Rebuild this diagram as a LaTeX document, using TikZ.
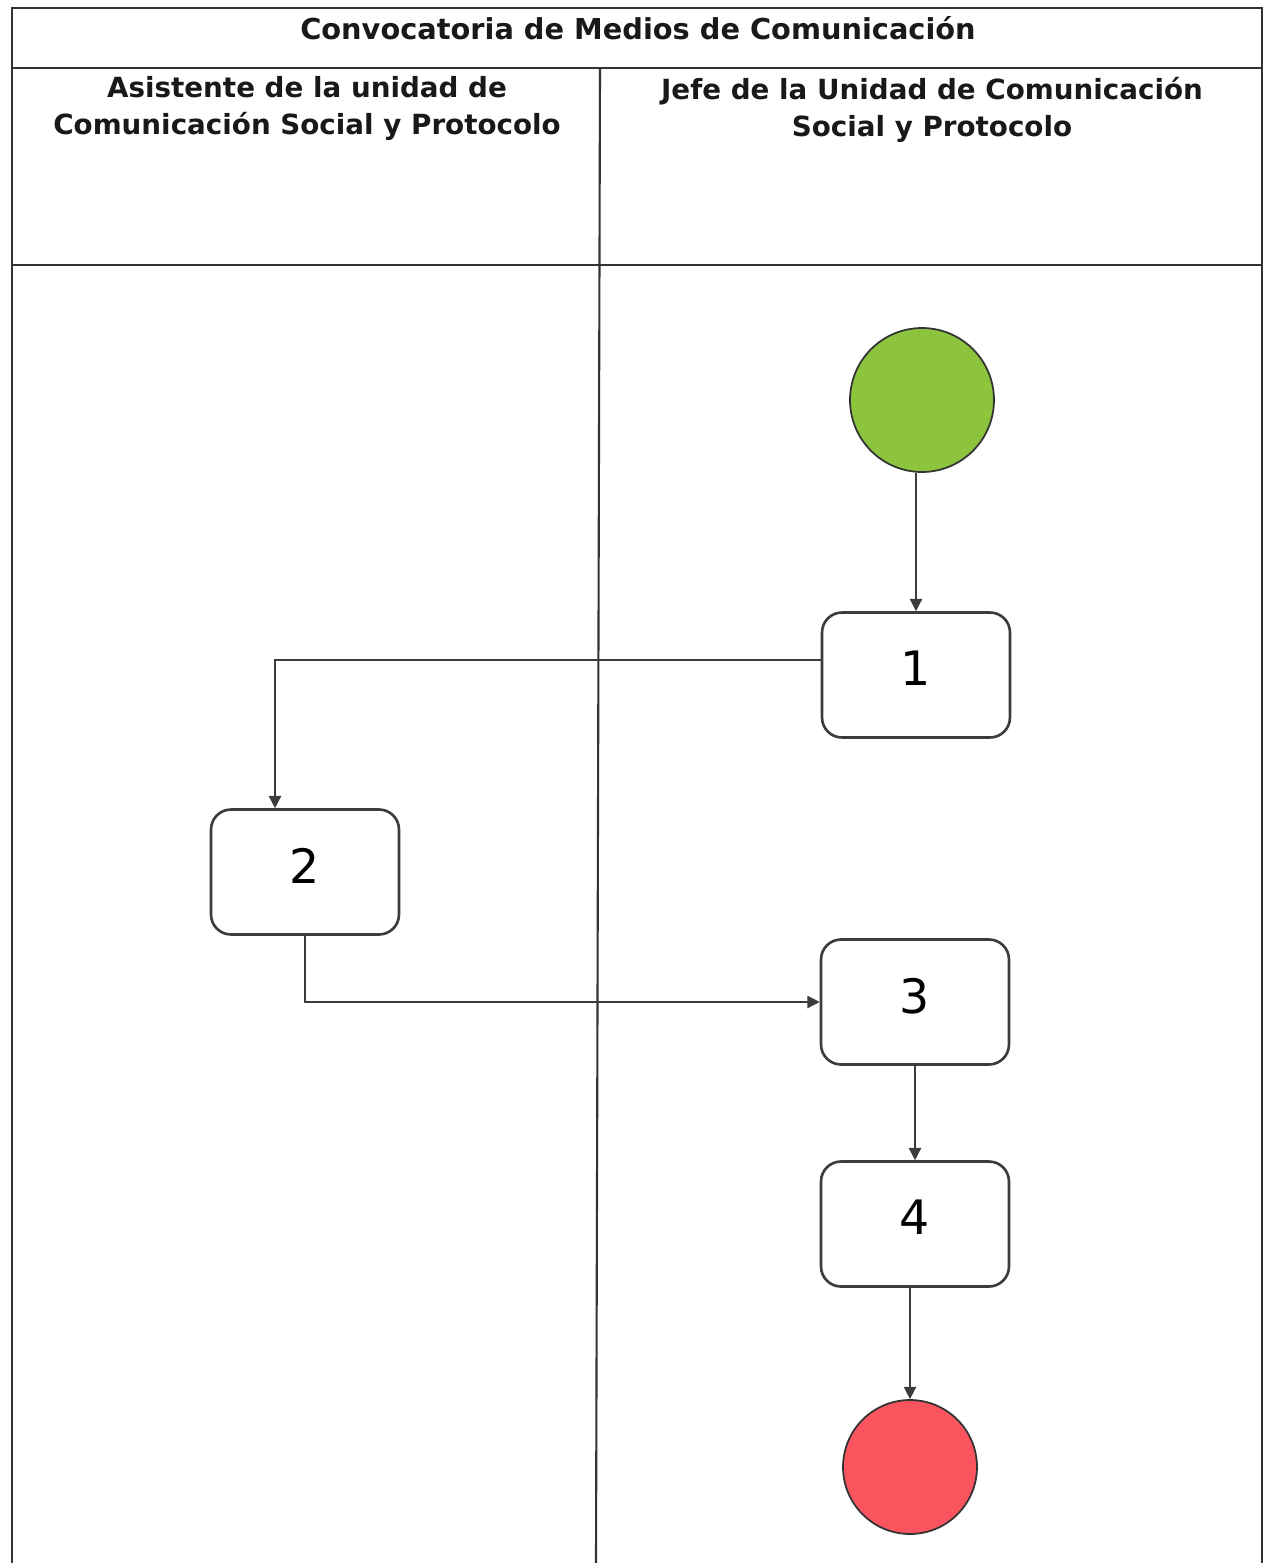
\documentclass[tikz,border=0pt]{standalone}
\usepackage{fontspec}
\setmainfont{DejaVu Sans}
\usepackage{tikz}
\usetikzlibrary{arrows.meta}

\definecolor{verde}{RGB}{141,196,62}
\definecolor{rojo}{RGB}{250,84,94}
\definecolor{linea}{RGB}{60,60,60}

\begin{document}
\begin{tikzpicture}[x=0.02cm,y=-0.02cm,->,>={Triangle[width=7pt,length=7pt]},
    paso node/.style={draw=linea,line width=1.5pt,rounded corners=0.4cm,fill=white,minimum width=3.76cm,minimum height=2.5cm,font=\fontsize{27}{30}\selectfont,text depth=0.75em},
    inicio node/.style={circle,draw=black!80,line width=1pt,minimum size=2.88cm},
    titulo/.style={font=\bfseries\fontsize{15.8}{21}\selectfont,align=center,text=black!90},
    tabla/.style={-,draw=black!80,line width=1.2pt},
    flecha/.style={draw=linea,line width=0.8pt}]
    \useasboundingbox (0,0) rectangle (1265,1563);
    % marco de la tabla
    \draw[tabla] (12,1563) -- (12,8) -- (1262,8) -- (1262,1563);
    \draw[tabla] (12,68) -- (1262,68);
    \draw[tabla] (12,265) -- (1262,265);
    \draw[tabla] (600,68) -- (596,1563);
    \node[titulo,font=\bfseries\fontsize{16.4}{21}\selectfont] (cab) at (638,28) {Convocatoria de Medios de Comunicación};
    \node[titulo] (asistente) at (307,108) {Asistente de la unidad de\\Comunicación Social y Protocolo};
    \node[titulo] (jefe) at (932,110) {Jefe de la Unidad de Comunicación\\Social y Protocolo};
    % actividades
    \node[inicio node,fill=verde] (inicio) at (922,400) {};
    \node[paso node] (1) at (916,675) {1};
    \node[paso node] (2) at (305,872) {2};
    \node[paso node] (3) at (915,1002) {3};
    \node[paso node] (4) at (915,1224) {4};
    \node[inicio node,fill=rojo,minimum size=2.68cm] (fin) at (910,1467) {};
    % conectores
    \draw[flecha] (inicio.south -| 1.north) -- (1.north);
    \draw[flecha] ([yshift=0.3cm]1.west) -| ([xshift=-0.6cm]2.north);
    \draw[flecha] (2.south) |- (3.west);
    \draw[flecha] (3.south) -- (4.north);
    \draw[flecha] (4.south -| fin.north) -- (fin.north);
\end{tikzpicture}
\end{document}
